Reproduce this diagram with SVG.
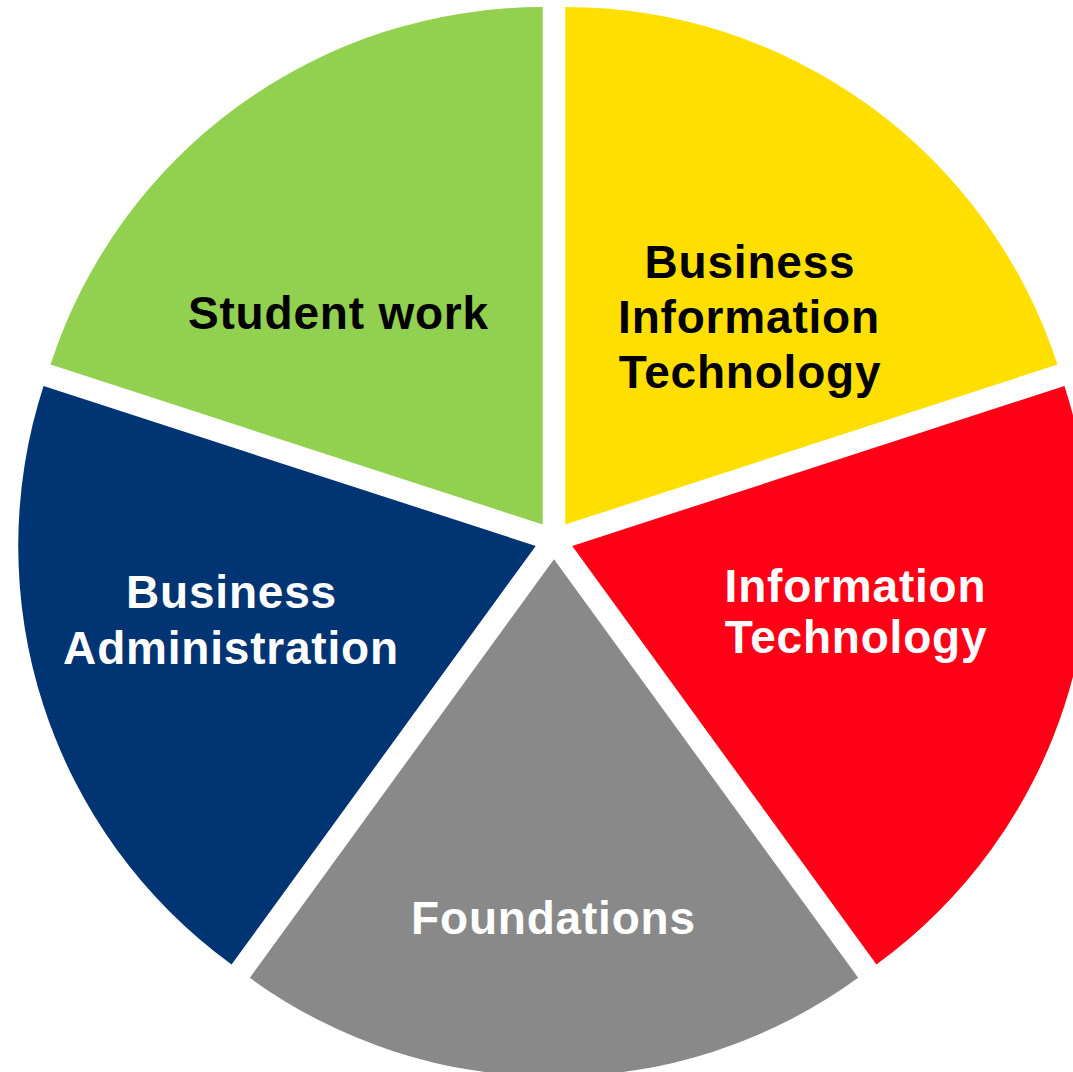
<svg xmlns="http://www.w3.org/2000/svg" width="1073" height="1072" viewBox="0 0 1073 1072">
<style>
text{font-family:"Liberation Sans",Arial,sans-serif;font-weight:bold;font-size:46px;letter-spacing:0.8px;text-anchor:middle}
.dark{fill:#000}
.light{fill:#fff}
</style>
<rect width="1073" height="1072" fill="#fff"/>
<g id="student-work">
<path d="M542.7 524.5 L50.55 364.6 A517.5 517.5 0 0 1 542.7 7 Z" fill="#92D050"/>
<text class="dark" x="338.5" y="329">Student work</text>
</g>
<g id="business-information-technology">
<path d="M565.3 524.5 L565.3 7 A517.5 517.5 0 0 1 1057.47 364.58 Z" fill="#FFDF00"/>
<text class="dark" x="750" y="277.5">Business</text>
<text class="dark" x="749" y="332.5">Information</text>
<text class="dark" x="750" y="387.5">Technology</text>
</g>
<g id="information-technology">
<path d="M572.26 545.93 L1064.43 386.01 A517.5 517.5 0 0 1 876.44 964.6 Z" fill="#FF0016"/>
<text class="light" x="855.5" y="601.5">Information</text>
<text class="light" x="856" y="653">Technology</text>
</g>
<g id="foundations">
<path d="M554 559.2 L858.18 977.87 A517.5 517.5 0 0 1 249.82 977.87 Z" fill="#898989"/>
<text class="light" x="553.5" y="934">Foundations</text>
</g>
<g id="business-administration">
<path d="M535.74 545.93 L231.56 964.6 A517.5 517.5 0 0 1 43.57 386.01 Z" fill="#003473"/>
<text class="light" x="231.5" y="607.5">Business</text>
<text class="light" x="231" y="663.5">Administration</text>
</g>
<g id="connectors"/>
</svg>
